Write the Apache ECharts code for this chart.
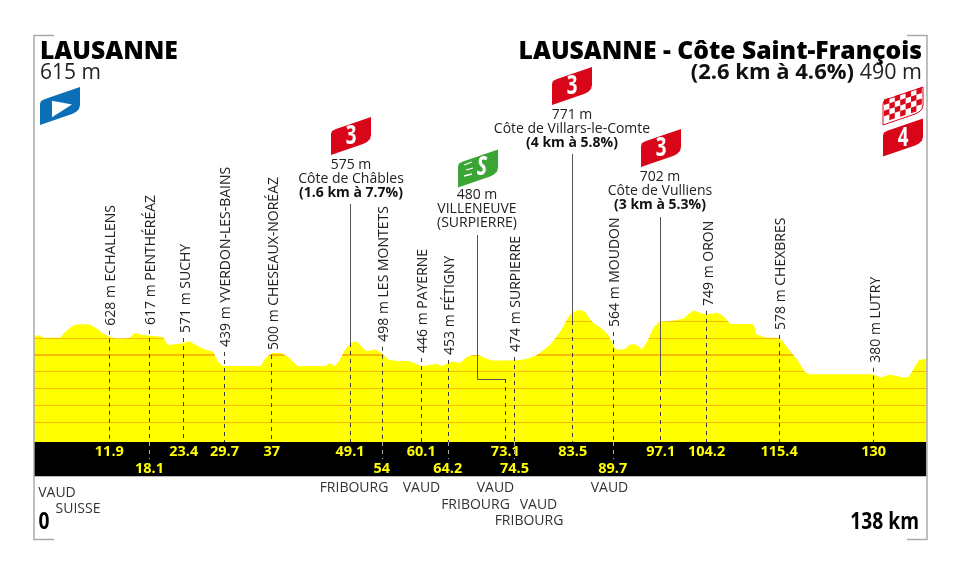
<!DOCTYPE html>
<html><head><meta charset="utf-8">
<style>html,body{margin:0;padding:0;background:#fff}#c{width:960px;height:576px}</style>
<script src="https://cdn.jsdelivr.net/npm/echarts@6/dist/echarts.min.js"></script>
</head><body><div id="c"></div>
<script>
const profileKm=[.26,.87,1.9,4.2,5.25,6.54,8.6,9.9,10.9,11.96,13,15.05,15.83,16.86,18.66,20.2,21,22.27,23.3,24.23,25.4,26.4,27.9,28.7,29.6,35.2,35.9,37.2,38.5,39.8,41.1,45.2,46,46.76,47.5,48.3,49.2,50,50.9,51.7,52.95,54,55,56.3,58.1,60.2,61.5,62.2,63.3,64.8,66.1,67.1,68.2,68.9,70.2,71.5,74.55,76.15,77.95,79.95,81.75,83.05,84.35,85.35,86.65,87.95,89,89.65,90.25,91.45,92.35,93.25,94.15,95.15,95.95,96.95,98.55,100.6,102.15,104.15,105.75,106.75,108.05,111.35,111.95,113.25,115.45,116.85,118.15,119.45,120.2,129.75,131.05,132.35,133.65,134.35,135.45,136.95,138.15];
const profileElev=[633,638,622,622,668,706,710,684,651,629,618,622,653,642,633,624,574,580,585,598,570,548,530,464,436,436,480,523,519,486,436,436,453,438,475,541,585,598,563,534,545,519,480,469,469,436,442,451,438,464,458,493,508,508,484,471,473,480,508,574,673,771,804,793,721,684,640,585,545,545,578,578,548,607,684,727,732,749,800,776,787,765,712,712,644,624,618,548,480,394,381,381,361,377,372,361,366,471,486];
const townNames=["628 m ECHALLENS","617 m PENTHÉRÉAZ","571 m SUCHY","439 m YVERDON-LES-BAINS","500 m CHESEAUX-NORÉAZ","498 m LES MONTETS","446 m PAYERNE","453 m FÉTIGNY","474 m SURPIERRE","564 m MOUDON","749 m ORON","578 m CHEXBRES","380 m LUTRY"];
const townKm=[11.9,18.1,23.4,29.7,37,54,60.1,64.2,74.5,89.7,104.2,115.4,130];
const townStemTopPx=[330.7,330,338,352,355,346.7,358,360,357,332,311,335,367.7];
const climbKm=[49.1,83.5,97.1];
const climbTopPx=[204,154,217];
const climbSolidEndPx=[343,321,372];
const bandRow1=["11.9","23.4","29.7","37","49.1","60.1","73.1","83.5","97.1","104.2","115.4","130"];
const bandRow2=["18.1","54","64.2","74.5","89.7"];
const contourPx=[321.7,338.3,355,371.7,388.7,405.3,422.3];
const regionLabels=[["VAUD",57,493],["SUISSE",78,509],["FRIBOURG",354,488],["VAUD",421.5,488],["VAUD",495.5,488],["FRIBOURG",475.5,504.7],["VAUD",538.5,504.7],["FRIBOURG",529,521],["VAUD",609.5,488]];

const PXM=0.152, yAt=p=>380+(374.5-p)/PXM;
const FONT='"Open Sans"';
const INK='#222';

const stops=[];
stops.push({offset:0,color:'#ffff00'});
contourPx.forEach(p=>{
  const a=(p-0.7)/576,b=(p+0.7)/576;
  stops.push({offset:a,color:'#ffff00'},{offset:a,color:'#fcb900'},{offset:b,color:'#fcb900'},{offset:b,color:'#ffff00'});
});
stops.push({offset:1,color:'#ffff00'});

const seg=(x1,y1,x2,y2,color,type,width)=>[{coord:[x1,y1],lineStyle:{color,type,width,dashOffset:0}},{coord:[x2,y2]}];
const dash=[4,4];
const segs=[];
townKm.forEach((k,i)=>segs.push(seg(k,yAt(townStemTopPx[i]),k,yAt(442),'#3c3c3c',dash,1)));
climbKm.forEach((k,i)=>{
  segs.push(seg(k,yAt(climbTopPx[i]),k,yAt(climbSolidEndPx[i]),'#555','solid',1));
  segs.push(seg(k,yAt(climbSolidEndPx[i]),k,yAt(442),'#3c3c3c',dash,1));
});
segs.push(seg(68.77,yAt(235),68.77,yAt(379),'#555','solid',1));
segs.push(seg(68.77,yAt(379),73.1,yAt(379),'#555','solid',1));
segs.push(seg(73.1,yAt(379),73.1,yAt(442),'#3c3c3c',dash,1));
bandRow2.forEach(k=>segs.push(seg(+k,yAt(442),+k,yAt(459),'#aaa',dash,1)));

const bandSeries=(arr,py)=>({type:'scatter',z:6,silent:true,symbolSize:0,itemStyle:{opacity:1},
  data:arr.map(k=>[+k,yAt(py),k]),
  label:{show:true,position:'inside',formatter:p=>p.data[2],color:'#ffff00',fontFamily:FONT,fontWeight:'bold',fontSize:14.5}});

const g=[];
const text=(x,y,t,o,sx)=>g.push({type:'text',x,y,z:20,silent:true,scaleX:sx||1,style:Object.assign({text:t,x:0,y:0,fill:INK,font:'14px '+FONT,align:'center',verticalAlign:'middle'},o||{})});
const poly=(pts,fill,stroke)=>g.push({type:'polygon',z:15,silent:true,shape:{points:pts},style:{fill,stroke:stroke||null,lineWidth:stroke?1:0}});
const flagShape=[[0,38],[0,17],[1,14],[5,12],[40,0],[40,18],[39,22],[36,25],[32,27]];
const flag=(x,y,fill,stroke)=>poly(flagShape.map(p=>[x+p[0],y+p[1]]),fill,stroke);
const frame=pts=>g.push({type:'polyline',z:12,silent:true,shape:{points:pts},style:{stroke:'#aaa',lineWidth:1.5,fill:null}});
frame([[54,35.5],[34,35.5],[34,539.5],[54,539.5]]);
frame([[907,35.5],[927,35.5],[927,539.5],[907,539.5]]);
g.push({type:'line',z:12,silent:true,shape:{x1:34,y1:476.5,x2:927,y2:476.5},style:{stroke:'#bbb',lineWidth:1}});

// titles
text(40,52,'LAUSANNE',{font:'800 24.7px '+FONT,align:'left',fill:'#000'});
text(40,73,'615 m',{font:'21px '+FONT,align:'left'});
text(922,52,'LAUSANNE - Côte Saint-François',{font:'800 24.7px '+FONT,align:'right',fill:'#000'});
text(922,73,'{b|(2.6 km à 4.6%)} {n|490 m}',{align:'right',rich:{b:{font:'bold 22px '+FONT,fill:'#111'},n:{font:'21.5px '+FONT,fill:INK,padding:[0,0,0,2]}}});

// climbs
const climbText=(x,y,a,b,c,boldLast)=>{
  text(x,y,a);text(x,y+14,b);text(x,y+28,c,boldLast?{font:'bold 14px '+FONT,fill:'#111'}:{});
};
climbText(351,165,'575 m','Côte de Châbles','(1.6 km à 7.7%)',true);
climbText(572,115,'771 m','Côte de Villars-le-Comte','(4 km à 5.8%)',true);
climbText(660,177,'702 m','Côte de Vulliens','(3 km à 5.3%)',true);
climbText(477,195,'480 m','VILLENEUVE','(SURPIERRE)',false);

// flags
const RED='#d9061a';
[[331,117,'3'],[552,67,'3'],[641,129,'3'],[883,118.5,'4']].forEach(f=>{
  flag(f[0],f[1],RED);
  text(f[0]+20,f[1]+20,f[2],{font:'bold 26px '+FONT,fill:'#fff'},0.72);
});
flag(40,87,'#0b6fb8');
poly([[52,100.7],[72,104.5],[52,117.3]],'#fff');
flag(458,149.5,'#3aa535');
text(482,167.5,'S',{font:'italic bold 26px '+FONT,fill:'#fff'},0.75);
[[464,165,472,162],[466,170,473,168],[464,176,472,174]].forEach(l=>g.push({type:'line',z:18,silent:true,shape:{x1:l[0],y1:l[1],x2:l[2],y2:l[3]},style:{stroke:'#fff',lineWidth:1.3}}));
flag(883,87,'#fff',RED);
for(let r=0;r<4;r++)for(let c=0;c<7;c++){
  if((r+c)%2)continue;
  const x=884+c*5.4, top=99.5-(x-884)*0.32+r*5.6, s=5.4, h=5.6;
  if(top+h>124.5-(x-884)*0.3||top<86)continue;
  poly([[x,top+h],[x,top],[x+s,top-1.8],[x+s,top+h-1.8]],RED);
}

// bottom
regionLabels.forEach(r=>text(r[1],r[2],r[0],{fill:'#333'}));
text(44,522,'0',{font:'bold 24px '+FONT,fill:'#000'},0.8);
text(919,522,'138 km',{font:'bold 24px '+FONT,align:'right',fill:'#000'},0.8);

const chart=echarts.init(document.getElementById('c'),null,{renderer:'canvas'});
chart.setOption({
  animation:false,backgroundColor:'#fff',
  grid:{left:32.3,right:32.7,top:0,bottom:0},
  xAxis:{type:'value',min:0,max:138.3,show:false},
  yAxis:{type:'value',min:yAt(576),max:yAt(0),show:false},
  graphic:g,
  series:[
    {type:'line',z:3,symbol:'none',silent:true,smooth:0.15,
     data:profileKm.map((k,i)=>[k,profileElev[i]]),
     lineStyle:{width:0,color:'#ffff00'},
     areaStyle:{origin:yAt(442),opacity:1,color:{type:'linear',global:true,x:0,y:0,x2:0,y2:576,colorStops:stops}},
     markArea:{silent:true,itemStyle:{color:'#000',opacity:1},data:[[{coord:[.26,yAt(442)]},{coord:[138.15,yAt(476)]}]]},
     markLine:{silent:true,symbol:'none',animation:false,label:{show:false},data:segs}},
    {type:'scatter',z:5,silent:true,symbolSize:0,itemStyle:{opacity:1},
     data:townKm.map((k,i)=>[k,yAt(townStemTopPx[i]),townNames[i]]),
     label:{show:true,position:'top',distance:6,rotate:90,align:'left',verticalAlign:'middle',offset:[-1,2],formatter:p=>p.data[2],color:INK,fontFamily:FONT,fontSize:14}},
    bandSeries(bandRow1,452),
    bandSeries(bandRow2,468.5)
  ]
});
</script></body></html>
